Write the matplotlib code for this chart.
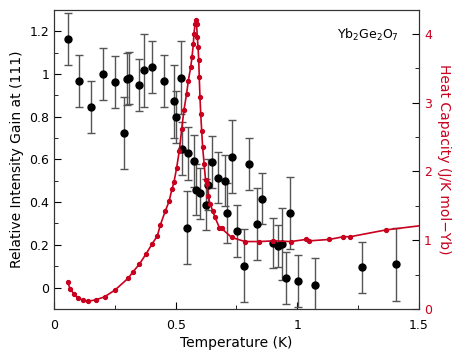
import matplotlib
matplotlib.use("Agg")
import matplotlib.pyplot as plt
from matplotlib.ticker import MultipleLocator, FuncFormatter

# neutron intensity gain at (111)
temp = [0.056, 0.101, 0.151, 0.200, 0.251, 0.288, 0.301, 0.307, 0.351, 0.371,
        0.401, 0.452, 0.495, 0.500, 0.522, 0.527, 0.545, 0.551, 0.575, 0.584,
        0.601, 0.625, 0.632, 0.651, 0.675, 0.702, 0.711, 0.730, 0.752, 0.781,
        0.801, 0.833, 0.854, 0.901, 0.919, 0.937, 0.952, 0.971, 1.003, 1.073,
        1.266, 1.404]
gain = [1.163, 0.969, 0.847, 1.002, 0.963, 0.725, 0.975, 0.980, 0.950, 1.017,
        1.031, 0.966, 0.872, 0.798, 0.983, 0.650, 0.281, 0.628, 0.594, 0.459,
        0.441, 0.388, 0.482, 0.587, 0.515, 0.501, 0.350, 0.613, 0.266, 0.103,
        0.580, 0.299, 0.417, 0.208, 0.194, 0.203, 0.045, 0.350, 0.030, 0.014,
        0.095, 0.108]
gain_err = [0.122, 0.122, 0.122, 0.122, 0.122, 0.169, 0.122, 0.122, 0.122, 0.172,
            0.122, 0.122, 0.171, 0.122, 0.170, 0.125, 0.169, 0.122, 0.122, 0.120,
            0.120, 0.120, 0.120, 0.122, 0.120, 0.120, 0.140, 0.172, 0.122, 0.169,
            0.122, 0.169, 0.120, 0.117, 0.100, 0.169, 0.122, 0.169, 0.122, 0.122,
            0.119, 0.169]

# heat capacity
t_cp = [0.056, 0.066, 0.081, 0.097, 0.118, 0.141, 0.171, 0.208, 0.252, 0.305,
        0.326, 0.351, 0.378, 0.403, 0.425, 0.437, 0.458, 0.473, 0.485, 0.493,
        0.504, 0.515, 0.525, 0.534, 0.545, 0.552, 0.562, 0.567, 0.573, 0.575,
        0.580, 0.582, 0.586, 0.589, 0.592, 0.595, 0.597, 0.600, 0.603, 0.607,
        0.611, 0.617, 0.623, 0.628, 0.634, 0.641, 0.652, 0.662, 0.680, 0.689,
        0.730, 0.785, 0.844, 0.901, 0.974, 1.034, 1.049, 1.130, 1.189, 1.217,
        1.365, 1.55]
cp = [0.389, 0.296, 0.223, 0.165, 0.127, 0.112, 0.131, 0.175, 0.277, 0.447,
      0.544, 0.651, 0.797, 0.943, 1.064, 1.220, 1.429, 1.564, 1.745, 1.841,
      2.05, 2.30, 2.62, 2.89, 3.13, 3.32, 3.52, 3.66, 3.86, 4.00,
      4.15, 4.21, 4.15, 3.96, 3.81, 3.62, 3.37, 3.08, 2.84, 2.59,
      2.35, 2.11, 1.87, 1.82, 1.65, 1.53, 1.43, 1.33, 1.18, 1.17,
      1.04, 0.98, 0.98, 0.99, 0.98, 1.01, 0.99, 1.01, 1.05, 1.05,
      1.15, 1.23]

red = "#c8001e"
fmt = FuncFormatter(lambda v, p: "%g" % round(v, 3))

fig = plt.figure(figsize=(4.57, 3.51), dpi=100)
ax = fig.add_axes([0.118, 0.12, 0.799, 0.8515])
ax.errorbar(temp, gain, yerr=gain_err, fmt="o", color="black", markersize=5,
            ecolor="#555555", elinewidth=1, capsize=3, capthick=1, zorder=3)
ax.set_xlim(0, 1.5)
ax.set_ylim(-0.1, 1.3)
ax.set_xlabel("Temperature (K)", fontsize=10, labelpad=3)
ax.set_ylabel("Relative Intensity Gain at (111)", fontsize=10)
ax.xaxis.set_major_locator(MultipleLocator(0.5))
ax.xaxis.set_minor_locator(MultipleLocator(0.25))
ax.yaxis.set_major_locator(MultipleLocator(0.2))
ax.yaxis.set_minor_locator(MultipleLocator(0.1))
ax.xaxis.set_major_formatter(fmt)
ax.yaxis.set_major_formatter(fmt)
ax.tick_params(which="both", direction="in", top=False, right=False, labelsize=9)
ax.tick_params(axis="x", pad=7)
ax.tick_params(which="major", length=5)
ax.tick_params(which="minor", length=3)
ax.text(0.945, 0.945, "Yb$_2$Ge$_2$O$_7$", transform=ax.transAxes,
        ha="right", va="top", fontsize=9)

ax2 = ax.twinx()
ax2.plot(t_cp, cp, "-o", color=red, markersize=2.8, linewidth=1.2)
ax2.set_ylim(0, 4.35)
ax2.set_xlim(0, 1.5)
ax2.yaxis.set_major_locator(MultipleLocator(1))
ax2.yaxis.set_minor_locator(MultipleLocator(0.5))
ax2.tick_params(which="both", direction="in", labelsize=9, labelcolor=red)
ax2.tick_params(which="major", length=5)
ax2.tick_params(which="minor", length=3)
ax2.set_ylabel("Heat Capacity (J/K mol\u2212Yb)", color=red, fontsize=10,
               rotation=270, labelpad=14)

for a in (ax, ax2):
    for s in a.spines.values():
        s.set_color("#333333")

fig.savefig("out.png", dpi=100)
